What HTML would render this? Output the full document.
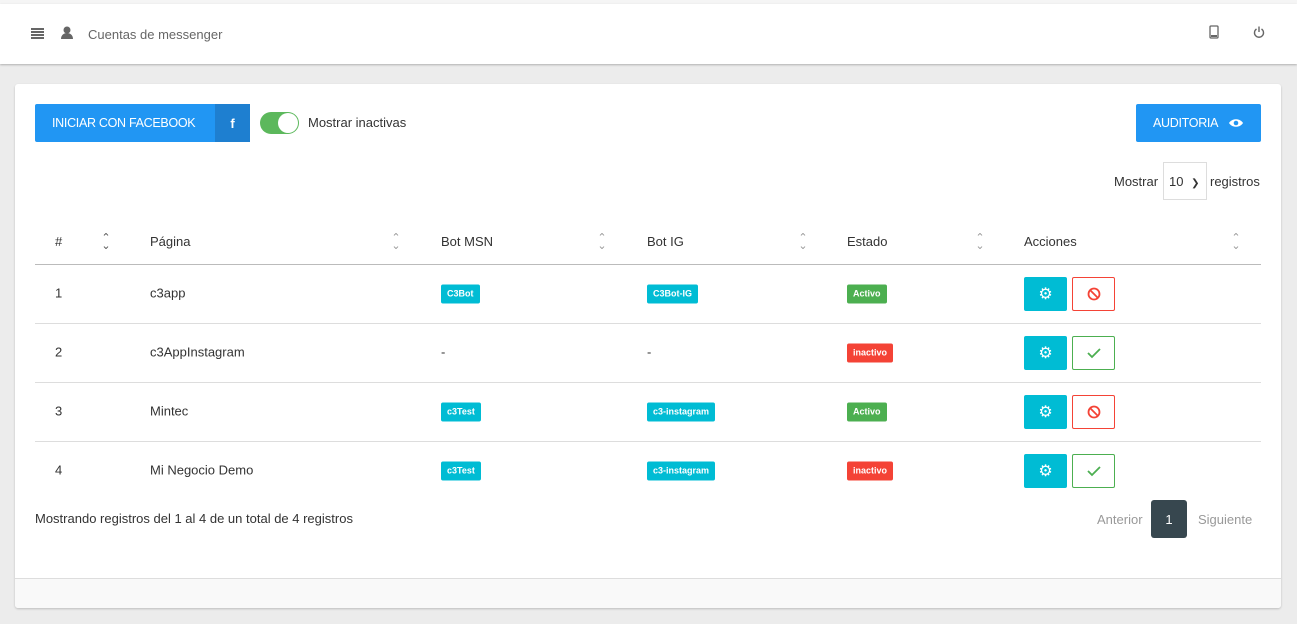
<!DOCTYPE html>
<html><head><meta charset="utf-8"><style>
*{box-sizing:border-box;margin:0;padding:0}
body{width:1297px;height:624px;background:#ececec;font-family:"Liberation Sans",sans-serif;font-size:13px;color:#333;position:relative;overflow:hidden}
.a{position:absolute}
.top{left:0;top:0;width:1297px;height:4px;background:#f5f5f5}
.hdr{left:0;top:4px;width:1297px;height:60px;background:#fff;box-shadow:0 1px 2px rgba(0,0,0,.25)}
.card{left:15px;top:84px;width:1266px;height:524px;background:#fff;border-radius:3px;box-shadow:0 1px 2px rgba(0,0,0,.2);overflow:hidden}
.btn{background:#2196f3;color:#fff;font-size:13px;border-radius:2px;display:flex;align-items:center}
.lbl{font-size:9px;color:#fff;font-weight:bold;border-radius:2px;height:19px;line-height:19px;padding:0 6px}
.cy{background:#00bcd4}.gr{background:#4caf50}.rd{background:#f44336}
.sort{color:#999;font-size:11px;line-height:8px;text-align:center;width:10px}
.gear{width:43px;height:34px;background:#00bcd4;border-radius:2px;color:#fff;display:flex;align-items:center;justify-content:center;font-size:16px}
.ob{width:43px;height:34px;background:#fff;border-radius:2px;display:flex;align-items:center;justify-content:center}
.line{left:35px;width:1226px;height:1px;background:#ddd}
.cell{transform:translateY(-50%)}
</style></head><body>
<div class="a top"></div>
<div class="a hdr">
  <div class="a" style="left:31px;top:24px;width:13px;">
    <div style="height:2px;background:#666;margin-bottom:1px"></div><div style="height:2px;background:#666;margin-bottom:1px"></div><div style="height:2px;background:#666;margin-bottom:1px"></div><div style="height:2px;background:#666"></div>
  </div>
  <svg class="a" style="left:60px;top:22px" width="15" height="14" viewBox="0 0 15 14"><circle cx="7" cy="4" r="3.5" fill="#666"/><path d="M1 13c0-4 3-6 6-6s6 2 6 6z" fill="#666"/></svg>
  <div class="a" style="left:88px;top:23px;color:#666;font-size:13px">Cuentas de messenger</div>
  <svg class="a" style="left:1209px;top:21px" width="10" height="14" viewBox="0 0 10 14"><rect x="1" y="1" width="8" height="12" rx="1" fill="none" stroke="#666" stroke-width="1.3"/><rect x="2" y="10" width="6" height="2" fill="#666"/></svg>
  <svg class="a" style="left:1253px;top:22px" width="12" height="12" viewBox="0 0 12 12"><path d="M3.5 3a4.5 4.5 0 1 0 5 0" fill="none" stroke="#666" stroke-width="1.4"/><line x1="6" y1="0.5" x2="6" y2="6" stroke="#666" stroke-width="1.4"/></svg>
</div>
<div class="a card">
  <div class="a btn" style="left:20px;top:20px;width:215px;height:38px">
    <span style="padding-left:17px;width:180px;letter-spacing:-0.3px;font-size:12.5px">INICIAR CON FACEBOOK</span>
    <span style="width:35px;height:38px;background:#1e7fd0;display:flex;align-items:center;justify-content:center;font-weight:bold">f</span>
  </div>
  <div class="a" style="left:245px;top:28px;width:39px;height:22px;background:#5cb85c;border-radius:11px"><div class="a" style="right:1px;top:1px;width:20px;height:20px;border-radius:10px;background:#fff"></div></div>
  <div class="a" style="left:293px;top:31px">Mostrar inactivas</div>
  <div class="a btn" style="left:1121px;top:20px;width:125px;height:38px;padding-left:17px"><span style="letter-spacing:-0.3px;font-size:12.5px">AUDITORIA</span><svg style="margin-left:11px" width="14" height="10" viewBox="0 0 14 10"><path d="M0 5C3 0 11 0 14 5C11 10 3 10 0 5z" fill="#fff"/><circle cx="7" cy="5" r="2.3" fill="#2196f3"/></svg></div>
  <div class="a" style="left:1099px;top:90px">Mostrar</div>
  <div class="a" style="left:1148px;top:78px;width:44px;height:38px;border:1px solid #ddd;padding:11px 0 0 5px">10 <span style="font-size:10px;margin-left:4px">&#10095;</span></div>
  <div class="a" style="left:1195px;top:90px">registros</div>
</div>
<div class="a" style="left:55px;top:234px">#</div>
<div class="a" style="left:150px;top:234px">Página</div>
<div class="a" style="left:441px;top:234px">Bot MSN</div>
<div class="a" style="left:647px;top:234px">Bot IG</div>
<div class="a" style="left:847px;top:234px">Estado</div>
<div class="a" style="left:1024px;top:234px">Acciones</div>
<div class="a sort" style="left:101px;top:234px;color:#555">&#8963;<br>&#8964;</div>
<div class="a sort" style="left:391px;top:234px">&#8963;<br>&#8964;</div>
<div class="a sort" style="left:597px;top:234px">&#8963;<br>&#8964;</div>
<div class="a sort" style="left:798px;top:234px">&#8963;<br>&#8964;</div>
<div class="a sort" style="left:975px;top:234px">&#8963;<br>&#8964;</div>
<div class="a sort" style="left:1231px;top:234px">&#8963;<br>&#8964;</div>
<div class="a line" style="top:264px;background:#bbb"></div>
<div class="a line" style="top:323px"></div>
<div class="a line" style="top:382px"></div>
<div class="a line" style="top:441px"></div>
<div class="a cell" style="left:55px;top:293px">1</div><div class="a cell" style="left:150px;top:293px">c3app</div>
<div class="a cell lbl cy" style="left:441px;top:294px">C3Bot</div><div class="a cell lbl cy" style="left:647px;top:294px">C3Bot-IG</div><div class="a cell lbl gr" style="left:847px;top:294px">Activo</div>
<div class="a cell" style="left:55px;top:352px">2</div><div class="a cell" style="left:150px;top:352px">c3AppInstagram</div>
<div class="a cell" style="left:441px;top:352px">-</div><div class="a cell" style="left:647px;top:352px">-</div><div class="a cell lbl rd" style="left:847px;top:353px">inactivo</div>
<div class="a cell" style="left:55px;top:411px">3</div><div class="a cell" style="left:150px;top:411px">Mintec</div>
<div class="a cell lbl cy" style="left:441px;top:412px">c3Test</div><div class="a cell lbl cy" style="left:647px;top:412px">c3-instagram</div><div class="a cell lbl gr" style="left:847px;top:412px">Activo</div>
<div class="a cell" style="left:55px;top:470px">4</div><div class="a cell" style="left:150px;top:470px">Mi Negocio Demo</div>
<div class="a cell lbl cy" style="left:441px;top:471px">c3Test</div><div class="a cell lbl cy" style="left:647px;top:471px">c3-instagram</div><div class="a cell lbl rd" style="left:847px;top:471px">inactivo</div>
<div class="a gear" style="left:1024px;top:277px">&#9881;</div><div class="a ob" style="left:1072px;top:277px;border:1px solid #f44336"><svg width="14" height="14"><circle cx="7" cy="7" r="5.5" fill="none" stroke="#f44336" stroke-width="1.8"/><line x1="3" y1="3" x2="11" y2="11" stroke="#f44336" stroke-width="1.8"/></svg></div>
<div class="a gear" style="left:1024px;top:336px">&#9881;</div><div class="a ob" style="left:1072px;top:336px;border:1px solid #4caf50"><svg width="14" height="12"><path d="M1 6l4 4 8-8" fill="none" stroke="#4caf50" stroke-width="1.8"/></svg></div>
<div class="a gear" style="left:1024px;top:395px">&#9881;</div><div class="a ob" style="left:1072px;top:395px;border:1px solid #f44336"><svg width="14" height="14"><circle cx="7" cy="7" r="5.5" fill="none" stroke="#f44336" stroke-width="1.8"/><line x1="3" y1="3" x2="11" y2="11" stroke="#f44336" stroke-width="1.8"/></svg></div>
<div class="a gear" style="left:1024px;top:454px">&#9881;</div><div class="a ob" style="left:1072px;top:454px;border:1px solid #4caf50"><svg width="14" height="12"><path d="M1 6l4 4 8-8" fill="none" stroke="#4caf50" stroke-width="1.8"/></svg></div>
<div class="a" style="left:35px;top:511px">Mostrando registros del 1 al 4 de un total de 4 registros</div>
<div class="a" style="left:1097px;top:512px;color:#999">Anterior</div>
<div class="a" style="left:1151px;top:500px;width:36px;height:38px;background:#37474f;border-radius:3px;color:#fff;display:flex;align-items:center;justify-content:center">1</div>
<div class="a" style="left:1198px;top:512px;color:#999">Siguiente</div>
<div class="a" style="left:15px;top:578px;width:1266px;height:30px;background:#f9f9f9;border-top:1px solid #ddd;border-radius:0 0 3px 3px"></div>
</body></html>
